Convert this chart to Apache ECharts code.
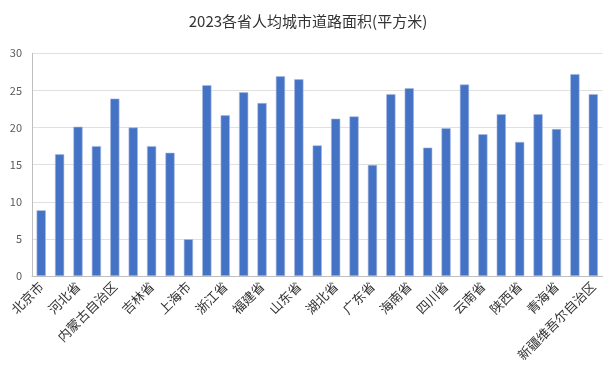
<!DOCTYPE html>
<html><head><meta charset="utf-8">
<script src="https://cdn.jsdelivr.net/npm/echarts@6/dist/echarts.min.js"></script>
<style>html,body{margin:0;padding:0;background:#fff}#c{width:616px;height:377px}</style>
</head><body><div id="c"></div>
<script>
const titleText = '2023各省人均城市道路面积(平方米)';
const provinces = ['北京市','天津市','河北省','山西省','内蒙古自治区','辽宁省','吉林省','黑龙江省','上海市','江苏省','浙江省','安徽省','福建省','江西省','山东省','河南省','湖北省','湖南省','广东省','广西壮族自治区','海南省','重庆市','四川省','贵州省','云南省','西藏自治区','陕西省','甘肃省','青海省','宁夏回族自治区','新疆维吾尔自治区'];
const values = [8.85,16.4,20.1,17.5,23.9,20.0,17.5,16.6,4.95,25.7,21.65,24.75,23.3,26.9,26.5,17.6,21.2,21.5,14.96,24.5,25.3,17.3,19.9,25.8,19.1,21.8,18.06,21.8,19.8,27.2,24.5];
const yTicks = [0,5,10,15,20,25,30];

const font = '"Noto Sans CJK SC", "Noto Sans", sans-serif';
const chart = echarts.init(document.getElementById('c'));
chart.setOption({
  animation: false,
  title: {text: titleText, left: 'center', top: 9,
    textStyle: {fontFamily: font, fontSize: 15, fontWeight: 'normal', color: '#333'}},
  grid: {left: 32, right: 13.5, top: 53.3, bottom: 101, containLabel: false},
  xAxis: {
    type: 'category', data: provinces,
    axisLine: {lineStyle: {color: '#bfbfbf'}},
    axisTick: {interval: 1, alignWithLabel: true, length: 4, lineStyle: {color: '#bfbfbf'}},
    axisLabel: {interval: 1, rotate: 45, margin: 8, fontFamily: font, fontSize: 13, color: '#333'}
  },
  yAxis: {
    type: 'value', min: yTicks[0], max: yTicks[yTicks.length-1], interval: 5,
    axisLine: {show: true, lineStyle: {color: '#bfbfbf'}},
    axisTick: {show: false},
    axisLabel: {fontFamily: font, fontSize: 11, color: '#595959', margin: 10},
    splitLine: {lineStyle: {color: '#e0e0e0'}}
  },
  series: [{
    type: 'bar', data: values, barWidth: '50%',
    itemStyle: {color: '#4472C4', borderColor: '#a7bbe3', borderWidth: 0.6}
  }]
});
</script></body></html>
